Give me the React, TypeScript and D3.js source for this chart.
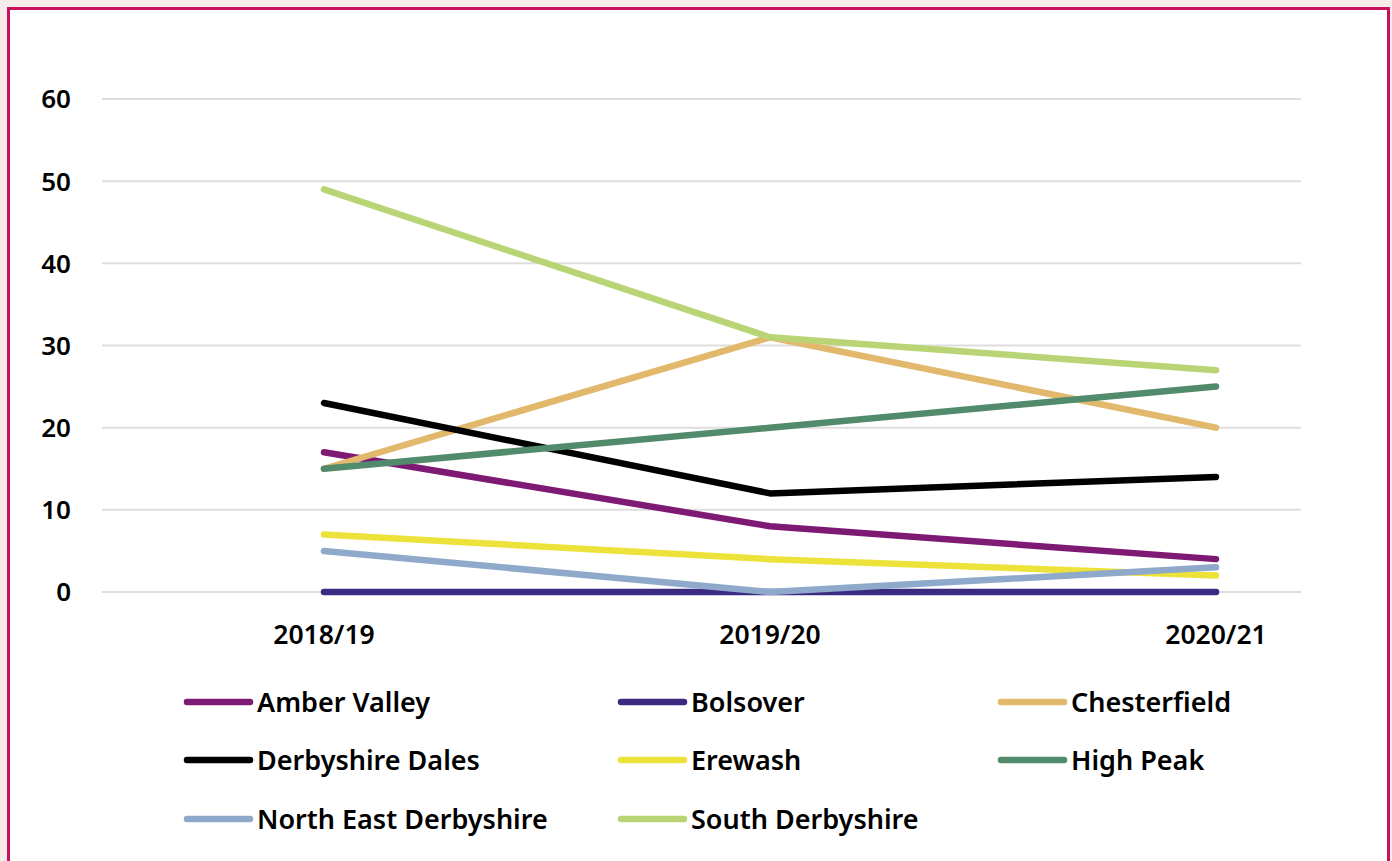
import React, { useEffect, useRef } from "react";
import * as d3 from "d3";

const categories = ["2018/19", "2019/20", "2020/21"];
const yTicks = [0, 10, 20, 30, 40, 50, 60];

const seriesNames = [
  "Amber Valley",
  "Bolsover",
  "Chesterfield",
  "Derbyshire Dales",
  "Erewash",
  "High Peak",
  "North East Derbyshire",
  "South Derbyshire",
];
const amberValley = [17, 8, 4];
const bolsover = [0, 0, 0];
const chesterfield = [15, 31, 20];
const derbyshireDales = [23, 12, 14];
const erewash = [7, 4, 2];
const highPeak = [15, 20, 25];
const northEastDerbyshire = [5, 0, 3];
const southDerbyshire = [49, 31, 27];
const seriesColors = [
  "#7e1a74",
  "#3c2a80",
  "#e1b86c",
  "#000000",
  "#ede23a",
  "#528a6c",
  "#8fa9cb",
  "#b9d474",
];

const seriesValues = [
  amberValley,
  bolsover,
  chesterfield,
  derbyshireDales,
  erewash,
  highPeak,
  northEastDerbyshire,
  southDerbyshire,
];

const W = 1392;
const H = 861;
const FONT = "'Noto Sans', 'Open Sans', sans-serif";

export default function App() {
  const ref = useRef<SVGSVGElement | null>(null);

  useEffect(() => {
    const svg = d3.select(ref.current);
    svg.selectAll("*").remove();

    svg.append("rect").attr("x", 0).attr("y", 0).attr("width", W).attr("height", H).attr("fill", "#f7ecea");
    svg
      .append("rect")
      .attr("x", 8.5)
      .attr("y", 8.5)
      .attr("width", 1380)
      .attr("height", 900)
      .attr("fill", "#ffffff")
      .attr("stroke", "#c8105f")
      .attr("stroke-width", 3);

    const x = d3.scalePoint<string>().domain(categories).range([324, 1216]);
    const y = d3.scaleLinear().domain([0, 60]).range([592, 99]);

    const grid = svg.append("g");
    yTicks.forEach((t) => {
      grid
        .append("line")
        .attr("x1", 102)
        .attr("x2", 1301)
        .attr("y1", y(t))
        .attr("y2", y(t))
        .attr("stroke", "#dedede")
        .attr("stroke-width", 2);
      grid
        .append("text")
        .attr("x", 71)
        .attr("y", y(t))
        .attr("dy", "0.36em")
        .attr("text-anchor", "end")
        .attr("font-family", FONT)
        .attr("font-weight", 600)
        .attr("font-size", 26)
        .attr("fill", "#000")
        .text(String(t));
    });

    categories.forEach((c) => {
      svg
        .append("text")
        .attr("x", x(c)!)
        .attr("y", 644)
        .attr("text-anchor", "middle")
        .attr("font-family", FONT)
        .attr("font-weight", 600)
        .attr("font-size", 26.5)
        .attr("fill", "#000")
        .text(c);
    });

    const line = d3
      .line<number>()
      .x((_, i) => x(categories[i])!)
      .y((d) => y(d));

    seriesValues.forEach((vals, i) => {
      svg
        .append("path")
        .attr("d", line(vals)!)
        .attr("fill", "none")
        .attr("stroke", seriesColors[i])
        .attr("stroke-width", 6.5)
        .attr("stroke-linecap", "round")
        .attr("stroke-linejoin", "round");
    });

    const colX = [187, 621, 1001];
    const rowY = [702, 760, 819];
    seriesNames.forEach((name, i) => {
      const cx = colX[i % 3];
      const cy = rowY[Math.floor(i / 3)];
      svg
        .append("line")
        .attr("x1", cx)
        .attr("x2", cx + 63)
        .attr("y1", cy)
        .attr("y2", cy)
        .attr("stroke", seriesColors[i])
        .attr("stroke-width", 6.5)
        .attr("stroke-linecap", "round");
      svg
        .append("text")
        .attr("x", cx + 70)
        .attr("y", cy)
        .attr("dy", "0.36em")
        .attr("font-family", FONT)
        .attr("font-weight", 600)
        .attr("font-size", 27)
        .attr("fill", "#000")
        .text(name);
    });
  }, []);

  return (
    <div style={{ position: "fixed", left: 0, top: 0, width: W, height: H }}>
      <svg ref={ref} width={W} height={H} style={{ display: "block" }} />
    </div>
  );
}
